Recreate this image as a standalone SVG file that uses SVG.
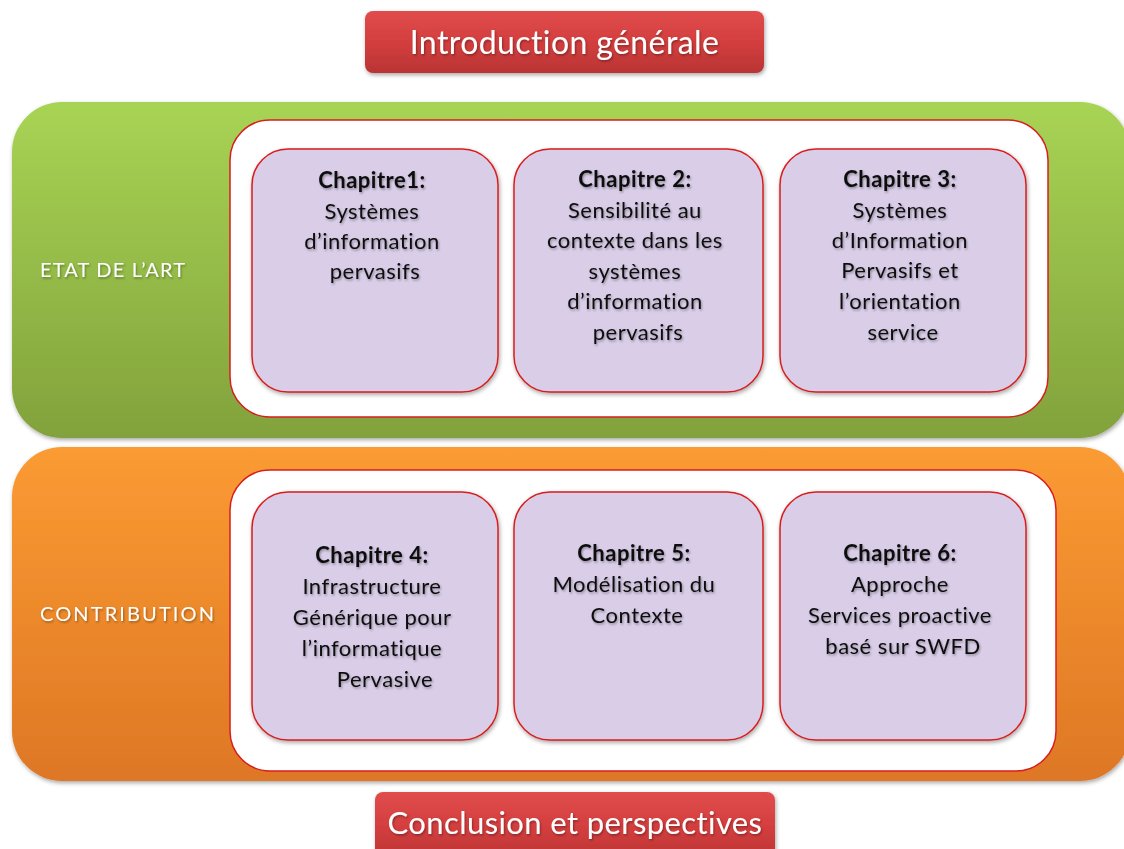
<svg xmlns="http://www.w3.org/2000/svg" width="1124" height="849" viewBox="0 0 1124 849">
  <defs>
    <linearGradient id="redGrad" x1="0" y1="0" x2="0" y2="1">
      <stop offset="0" stop-color="#e04c4c"/>
      <stop offset="0.5" stop-color="#d43e3e"/>
      <stop offset="1" stop-color="#b93434"/>
    </linearGradient>
    <linearGradient id="greenGrad" x1="0" y1="0" x2="0" y2="1">
      <stop offset="0" stop-color="#a8d454"/>
      <stop offset="1" stop-color="#82a23c"/>
    </linearGradient>
    <linearGradient id="orangeGrad" x1="0" y1="0" x2="0" y2="1">
      <stop offset="0" stop-color="#fb9b32"/>
      <stop offset="1" stop-color="#de7725"/>
    </linearGradient>
    <filter id="shadow" x="-10%" y="-10%" width="120%" height="130%">
      <feDropShadow dx="1" dy="2" stdDeviation="2" flood-color="#000" flood-opacity="0.35"/>
    </filter>
    <filter id="textShadow" x="-5%" y="-20%" width="110%" height="150%">
      <feDropShadow dx="1" dy="1.5" stdDeviation="1" flood-color="#000" flood-opacity="0.35"/>
    </filter>
  </defs>
  <style>
    .title { font-family: Lato, "Open Sans", "Liberation Sans", sans-serif; font-size: 32px; fill: #ffffff; text-anchor: middle; letter-spacing: 0.4px; }
    .band { font-family: Lato, "Open Sans", "Liberation Sans", sans-serif; font-size: 20px; fill: #ffffff; }
    .chap { font-family: Lato, "Open Sans", "Liberation Sans", sans-serif; font-size: 22px; fill: #111111; text-anchor: middle; letter-spacing: 0.5px; }
    .chap .head { font-weight: bold; }
    .inner { fill: #ffffff; stroke: #d81e1e; stroke-width: 1.5; }
    .card { fill: #d9cde8; stroke: #d81e1e; stroke-width: 1.5; }
  </style>

  <rect width="1124" height="849" fill="#ffffff"/>

  <!-- Introduction -->
  <g id="intro">
    <rect x="365" y="11" width="399" height="62" rx="8" fill="url(#redGrad)" filter="url(#shadow)"/>
    <text class="title" x="564.5" y="54" filter="url(#textShadow)">Introduction générale</text>
  </g>

  <!-- Etat de l'art band -->
  <g id="etat-de-l-art">
    <rect x="12" y="102" width="1118" height="336" rx="50" fill="url(#greenGrad)" filter="url(#shadow)"/>
    <text class="band" x="40" y="277" textLength="145" lengthAdjust="spacing" filter="url(#textShadow)">ETAT DE L’ART</text>
    <rect class="inner" x="230" y="120" width="818" height="297" rx="40"/>
  </g>

  <g id="chapitre1">
    <rect class="card" x="252" y="149" width="246" height="243" rx="36" filter="url(#shadow)"/>
    <text class="chap" filter="url(#textShadow)">
      <tspan class="head" x="375" y="188">Chapitre1:</tspan>
      <tspan x="375" y="219">Systèmes</tspan>
      <tspan x="375" y="249">d’information</tspan>
      <tspan x="375" y="279">pervasifs</tspan>
    </text>
  </g>

  <g id="chapitre2">
    <rect class="card" x="514" y="149" width="249" height="243" rx="36" filter="url(#shadow)"/>
    <text class="chap" filter="url(#textShadow)">
      <tspan class="head" x="638" y="187">Chapitre 2:</tspan>
      <tspan x="638" y="218">Sensibilité au</tspan>
      <tspan x="638" y="248">contexte dans les</tspan>
      <tspan x="638" y="279">systèmes</tspan>
      <tspan x="638" y="309">d’information</tspan>
      <tspan x="638" y="340">pervasifs</tspan>
    </text>
  </g>

  <g id="chapitre3">
    <rect class="card" x="780" y="149" width="246" height="243" rx="36" filter="url(#shadow)"/>
    <text class="chap" filter="url(#textShadow)">
      <tspan class="head" x="903" y="187">Chapitre 3:</tspan>
      <tspan x="903" y="218">Systèmes</tspan>
      <tspan x="903" y="248">d’Information</tspan>
      <tspan x="903" y="278">Pervasifs et</tspan>
      <tspan x="903" y="309">l’orientation</tspan>
      <tspan x="903" y="340">service</tspan>
    </text>
  </g>

  <!-- Contribution band -->
  <g id="contribution">
    <rect x="12" y="447" width="1118" height="334" rx="50" fill="url(#orangeGrad)" filter="url(#shadow)"/>
    <text class="band" x="40" y="621" textLength="174" lengthAdjust="spacing" filter="url(#textShadow)">CONTRIBUTION</text>
    <rect class="inner" x="230" y="470" width="826" height="301" rx="40"/>
  </g>

  <g id="chapitre4">
    <rect class="card" x="252" y="492" width="246" height="248" rx="36" filter="url(#shadow)"/>
    <text class="chap" filter="url(#textShadow)">
      <tspan class="head" x="375" y="563">Chapitre 4:</tspan>
      <tspan x="375" y="594">Infrastructure</tspan>
      <tspan x="375" y="625">Générique pour</tspan>
      <tspan x="375" y="656">l’informatique</tspan>
      <tspan x="385" y="687">Pervasive</tspan>
    </text>
  </g>

  <g id="chapitre5">
    <rect class="card" x="514" y="492" width="249" height="248" rx="36" filter="url(#shadow)"/>
    <text class="chap" filter="url(#textShadow)">
      <tspan class="head" x="637" y="561">Chapitre 5:</tspan>
      <tspan x="637" y="592">Modélisation du</tspan>
      <tspan x="637" y="623">Contexte</tspan>
    </text>
  </g>

  <g id="chapitre6">
    <rect class="card" x="780" y="492" width="246" height="248" rx="36" filter="url(#shadow)"/>
    <text class="chap" filter="url(#textShadow)">
      <tspan class="head" x="903" y="561">Chapitre 6:</tspan>
      <tspan x="903" y="592">Approche</tspan>
      <tspan x="903" y="623">Services proactive</tspan>
      <tspan x="903" y="654">basé sur SWFD</tspan>
    </text>
  </g>

  <!-- Conclusion -->
  <g id="conclusion">
    <rect x="375" y="792" width="400" height="70" rx="8" fill="url(#redGrad)" filter="url(#shadow)"/>
    <text class="title" x="575" y="834" style="font-size:31px" filter="url(#textShadow)">Conclusion et perspectives</text>
  </g>

  <!-- connectors: none in this layout -->
  <g id="connectors"/>
</svg>
